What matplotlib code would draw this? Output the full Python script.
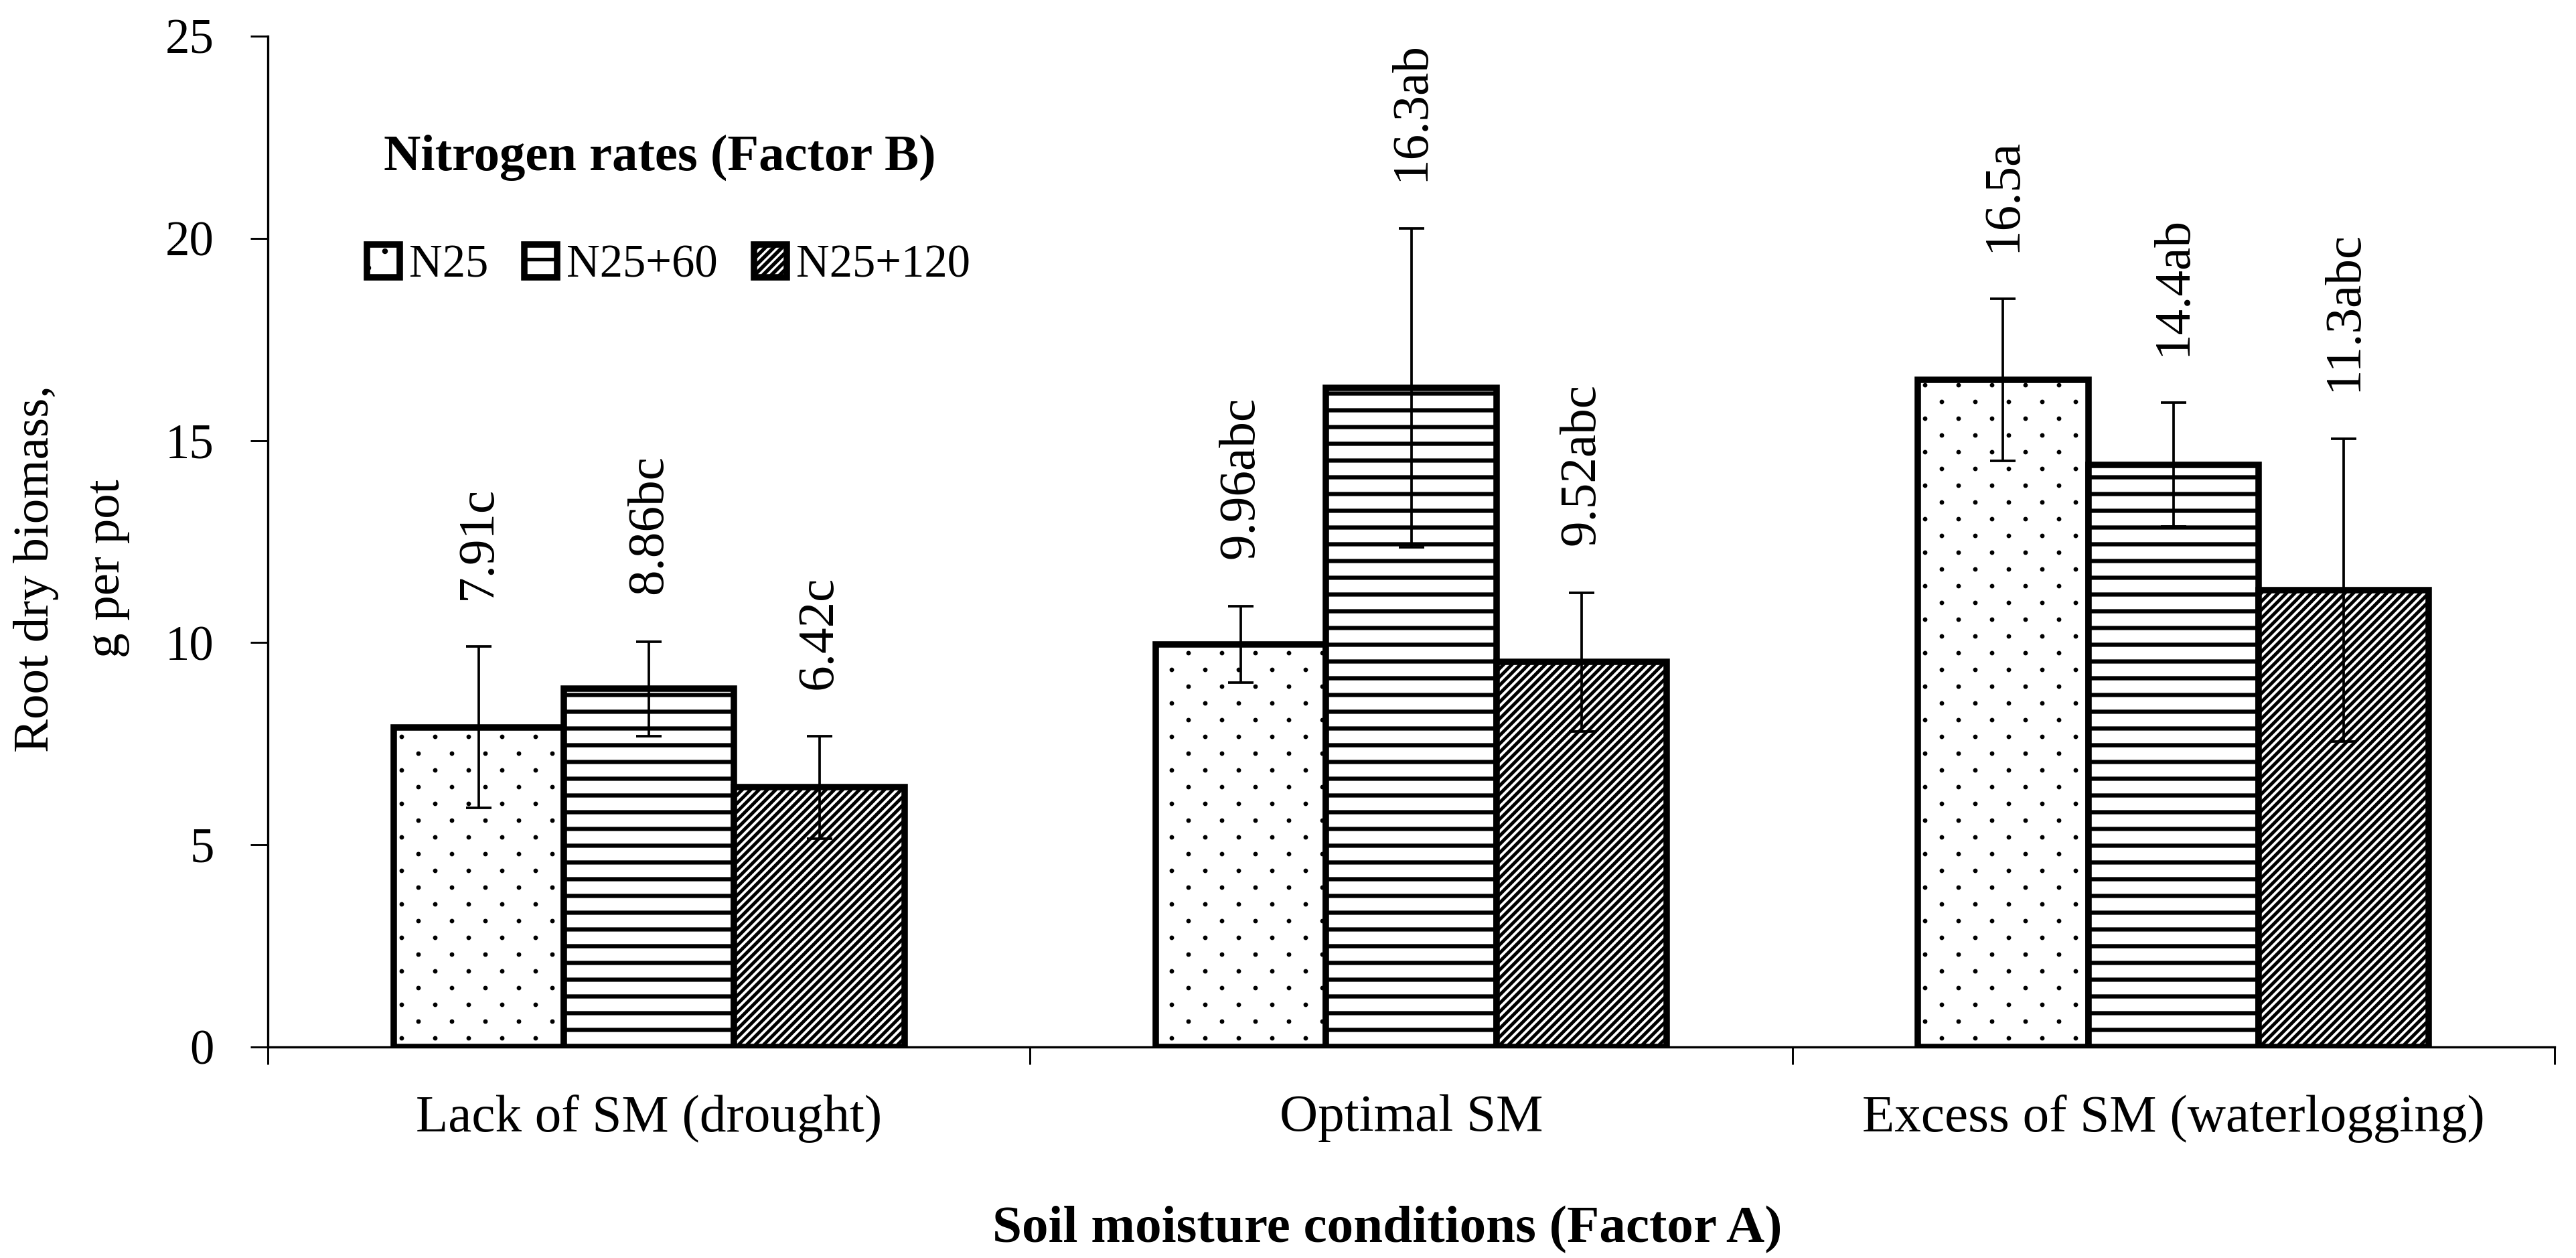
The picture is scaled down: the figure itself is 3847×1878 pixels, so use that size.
import numpy as np
import matplotlib
matplotlib.use("Agg")
import matplotlib.pyplot as plt
import matplotlib.hatch as mhatch
from matplotlib.path import Path

# data
conditions = ["Lack of SM (drought)", "Optimal SM", "Excess of SM (waterlogging)"]
series = ["N25", "N25+60", "N25+120"]
n25 = [7.91, 9.96, 16.5]
n25_60 = [8.86, 16.3, 14.4]
n25_120 = [6.42, 9.52, 11.3]
err_n25 = [1.99, 0.94, 2.0]
err_n25_60 = [1.17, 3.94, 1.53]
err_n25_120 = [1.26, 1.71, 3.74]
lab_n25 = ["7.91c", "9.96abc", "16.5a"]
lab_n25_60 = ["8.86bc", "16.3ab", "14.4ab"]
lab_n25_120 = ["6.42c", "9.52abc", "11.3abc"]


# sparse staggered dot pattern (dots every 1/6 in across, rows every 1/12 in)
class StaggeredDots(mhatch.HatchPatternBase):
    def __init__(self, hatch, density):
        self.n = hatch.count('.') * density
        circle = Path.unit_circle()
        self.shape_vertices = circle.vertices
        self.shape_codes = circle.codes
        pts = []
        if self.n:
            step = 1.0 / self.n
            for r in range(2 * self.n + 1):
                y = r * step / 2
                start = 0.0 if r % 2 == 0 else step / 2
                for x in np.arange(start, 1 + 1e-9, step):
                    pts.append((x, y))
        self.points = pts
        self.num_vertices = len(pts) * len(self.shape_vertices)

    def set_vertices_and_codes(self, vertices, codes):
        rad = 0.03 / self.n
        nv = len(self.shape_vertices)
        cursor = 0
        for x, y in self.points:
            vertices[cursor:cursor + nv] = self.shape_vertices * rad + (x, y)
            codes[cursor:cursor + nv] = self.shape_codes
            cursor += nv


mhatch._hatch_types = [StaggeredDots if t is mhatch.SmallFilledCircles else t
                       for t in mhatch._hatch_types]

plt.rcParams['font.family'] = ['Liberation Serif', 'DejaVu Serif']
plt.rcParams['hatch.linewidth'] = 1.3
plt.rcParams['hatch.color'] = 'black'

fig = plt.figure(figsize=(3847 / 300, 1878 / 300), dpi=300)
ax = fig.add_axes([400 / 3847, 1 - 1563 / 1878, 3415 / 3847, 1509 / 1878])

x = np.arange(len(conditions)) + 0.5
w = 0.2235
vals = [n25, n25_60, n25_120]
errs = [err_n25, err_n25_60, err_n25_120]
labs = [lab_n25, lab_n25_60, lab_n25_120]
hatches = ['.', '--', '////////']
hatch_lw = [0.9, 1.5, 1.2]

bars = []
for i in range(3):
    pos = x + (i - 1) * w
    with plt.rc_context({'hatch.linewidth': hatch_lw[i]}):
        b = ax.bar(pos, vals[i], w, color='white', edgecolor='black',
                   linewidth=2.3, hatch=hatches[i], label=series[i], zorder=2)
    for p in b.patches:
        if hasattr(p, 'set_hatch_linewidth'):
            p.set_hatch_linewidth(hatch_lw[i])
    bars.append(b)
    ax.errorbar(pos, vals[i], yerr=errs[i], fmt='none', ecolor='black',
                elinewidth=0.9, capsize=4.6, capthick=0.9, zorder=3)
    for xp, v, e, t in zip(pos, vals[i], errs[i], labs[i]):
        ax.annotate(t, (xp, v + e), xytext=(0, 17), textcoords='offset points',
                    rotation=90, ha='center', va='bottom', fontsize=18.5)

ax.set_xlim(0, 3)
ax.set_ylim(0, 25)
ax.set_yticks(np.arange(0, 26, 5))
ax.set_xticks(x)
ax.set_xticklabels(conditions, fontsize=19)
ax.set_xticks(np.arange(0, 4), minor=True)
ax.tick_params(axis='x', which='major', length=0, pad=17)
ax.tick_params(axis='x', which='minor', length=6.3, width=0.7, direction='out')
ax.tick_params(axis='y', length=6.3, width=0.7, direction='out', pad=13, labelsize=17.5)

for s in ['top', 'right']:
    ax.spines[s].set_visible(False)
for s in ['left', 'bottom']:
    ax.spines[s].set_linewidth(0.8)

ax.set_xlabel("Soil moisture conditions (Factor A)", fontsize=19, fontweight='bold')
ax.xaxis.set_label_coords(0.4896, -0.157)

fig.text(107 / 3847, 0.548, "Root dry biomass,\ng per pot", rotation=90,
         ha='center', va='center', multialignment='center', fontsize=18, linespacing=1.75)

ax.text(0.0507, 0.880, "Nitrogen rates (Factor B)", transform=ax.transAxes,
        fontsize=18.4, fontweight='bold', va='center', ha='left')
ax.legend(handles=bars, loc='center left', bbox_to_anchor=(0.0433, 0.7727), ncol=3,
          frameon=False, fontsize=16.5, handlelength=0.72, handleheight=0.72,
          handletextpad=0.2, columnspacing=0.78, borderpad=0, borderaxespad=0)

fig.savefig("out.png", dpi=300)
